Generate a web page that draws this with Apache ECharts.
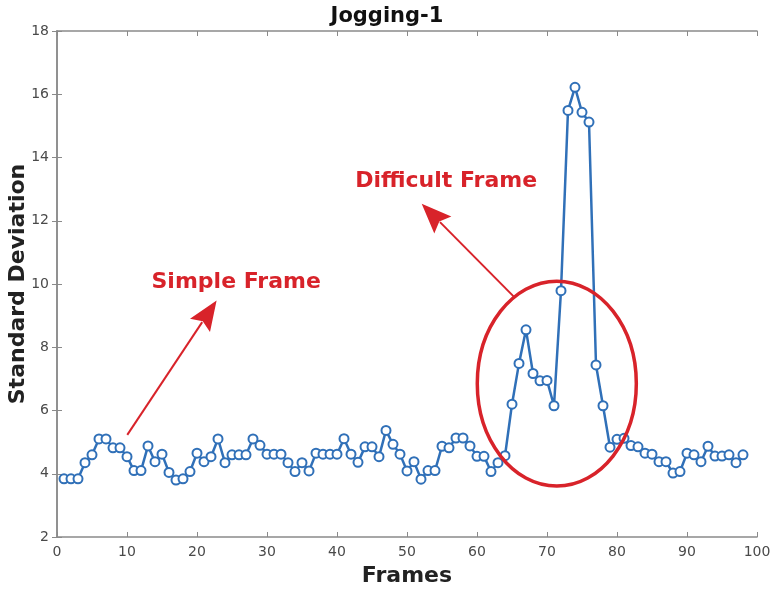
<!DOCTYPE html>
<html>
<head>
<meta charset="utf-8">
<script src="https://cdn.jsdelivr.net/npm/echarts@6/dist/echarts.min.js"></script>
<style>html,body{margin:0;padding:0;background:#fff;}#c{width:774px;height:590px;}</style>
</head>
<body>
<div id="c"></div>
<script>
const title = "Jogging-1";
const xName = "Frames";
const yName = "Standard Deviation";
const frames = [1,2,3,4,5,6,7,8,9,10,11,12,13,14,15,16,17,18,19,20,21,22,23,24,25,26,27,28,29,30,31,32,33,34,35,36,37,38,39,40,41,42,43,44,45,46,47,48,49,50,51,52,53,54,55,56,57,58,59,60,61,62,63,64,65,66,67,68,69,70,71,72,73,74,75,76,77,78,79,80,81,82,83,84,85,86,87,88,89,90,91,92,93,94,95,96,97,98];
const stdDev = [3.84,3.84,3.84,4.35,4.6,5.1,5.1,4.82,4.82,4.54,4.1,4.1,4.88,4.38,4.62,4.04,3.8,3.84,4.07,4.65,4.38,4.54,5.1,4.35,4.6,4.6,4.6,5.1,4.9,4.62,4.62,4.62,4.35,4.07,4.35,4.09,4.65,4.62,4.62,4.62,5.11,4.62,4.36,4.85,4.85,4.54,5.37,4.93,4.62,4.09,4.38,3.83,4.1,4.1,4.87,4.82,5.13,5.13,4.88,4.55,4.55,4.07,4.35,4.57,6.2,7.49,8.55,7.17,6.94,6.95,6.15,9.79,15.49,16.22,15.43,15.12,7.44,6.15,4.84,5.09,5.12,4.89,4.85,4.65,4.62,4.38,4.38,4.02,4.07,4.65,4.6,4.38,4.87,4.56,4.56,4.6,4.35,4.6];
const xTicks = [0,10,20,30,40,50,60,70,80,90,100];
const yTicks = [2,4,6,8,10,12,14,16,18];
// annotations in data coordinates
const simpleLabel = {text:"Simple Frame", at:[25.6,10.06]};
const simpleArrow = {from:[10.04,5.23], to:[22.8,9.48]};
const diffLabel = {text:"Difficult Frame", at:[55.6,13.24]};
const diffArrow = {from:[65.4,9.57], to:[52.1,12.54]};
const ellipse = {center:[71.4,6.85], rx:11.36, ry:3.24};

const axisGray = '#8a8a8a';
const labelGray = '#4a4a4a';
const red = '#d8232a';
const blue = '#3070b8';
const font = 'DejaVu Sans';

const chart = echarts.init(document.getElementById('c'), null, {renderer:'canvas'});
const baseAxis = {
  axisLine:{show:true, lineStyle:{color:axisGray, width:1.5}},
  axisTick:{show:true, inside:true, length:5, lineStyle:{color:axisGray, width:1}},
  splitLine:{show:false}
};
const option = {
  animation:false,
  title:{text:title, left:'center', top:1, textStyle:{fontFamily:font, fontSize:21, fontWeight:'bold', color:'#111'}},
  grid:{left:57, right:17, top:31, bottom:53, containLabel:false, outerBoundsMode:'none'},
  xAxis:[
    Object.assign({type:'value', min:xTicks[0], max:xTicks[xTicks.length-1], interval:10, name:xName, nameLocation:'middle', nameGap:28, nameMoveOverlap:false,
      nameTextStyle:{fontFamily:font, fontSize:22, fontWeight:'bold', color:'#222'},
      axisLabel:{fontFamily:font, fontSize:14, color:labelGray, margin:8}}, baseAxis),
    Object.assign({type:'value', position:'top', min:0, max:100, interval:10, axisLabel:{show:false}}, baseAxis)
  ],
  yAxis:[
    Object.assign({type:'value', min:yTicks[0], max:yTicks[yTicks.length-1], interval:2, name:yName, nameLocation:'middle', nameGap:28, nameMoveOverlap:false,
      nameTextStyle:{fontFamily:font, fontSize:22, fontWeight:'bold', color:'#222'},
      axisLabel:{fontFamily:font, fontSize:14, color:labelGray, margin:8}}, baseAxis),
    Object.assign({type:'value', position:'right', min:2, max:18, interval:2, axisLabel:{show:false}}, baseAxis)
  ],
  series:[{
    type:'line',
    data:frames.map((f,i)=>[f, stdDev[i]]),
    symbol:'circle', symbolSize:9,
    lineStyle:{color:blue, width:2.5},
    itemStyle:{color:'#fff', borderColor:blue, borderWidth:2},
    z:3
  }]
};
chart.setOption(option);

function px(p){ return chart.convertToPixel({xAxisIndex:0, yAxisIndex:0}, p); }
function arrow(a){
  const s = px(a.from), t = px(a.to);
  const dx = t[0]-s[0], dy = t[1]-s[1];
  const L = Math.sqrt(dx*dx+dy*dy);
  const ux = dx/L, uy = dy/L;
  const hl = 30, hw = 12;
  const bx = t[0]-ux*hl, by = t[1]-uy*hl;
  const nx = -uy, ny = ux;
  return [
    {type:'line', shape:{x1:s[0], y1:s[1], x2:bx+ux*4, y2:by+uy*4}, style:{stroke:red, lineWidth:2}, z:10},
    {type:'polygon', shape:{points:[[t[0],t[1]],[bx+nx*hw,by+ny*hw],[bx+ux*5,by+uy*5],[bx-nx*hw,by-ny*hw]]}, style:{fill:red}, z:10}
  ];
}
function label(l){
  const p = px(l.at);
  return {type:'text', x:p[0], y:p[1], style:{text:l.text, fill:red, font:'bold 22px "DejaVu Sans"', textAlign:'center', textVerticalAlign:'middle'}, z:10};
}
const c = px(ellipse.center);
const ex = px([ellipse.center[0]+ellipse.rx, ellipse.center[1]]);
const ey = px([ellipse.center[0], ellipse.center[1]+ellipse.ry]);
const graphics = [].concat(
  arrow(simpleArrow), arrow(diffArrow), [label(simpleLabel), label(diffLabel),
  {type:'ellipse', shape:{cx:c[0], cy:c[1], rx:Math.abs(ex[0]-c[0]), ry:Math.abs(c[1]-ey[1])}, style:{fill:'none', stroke:red, lineWidth:3.5}, z:10}]
);
chart.setOption({graphic:graphics});
</script>
</body>
</html>
